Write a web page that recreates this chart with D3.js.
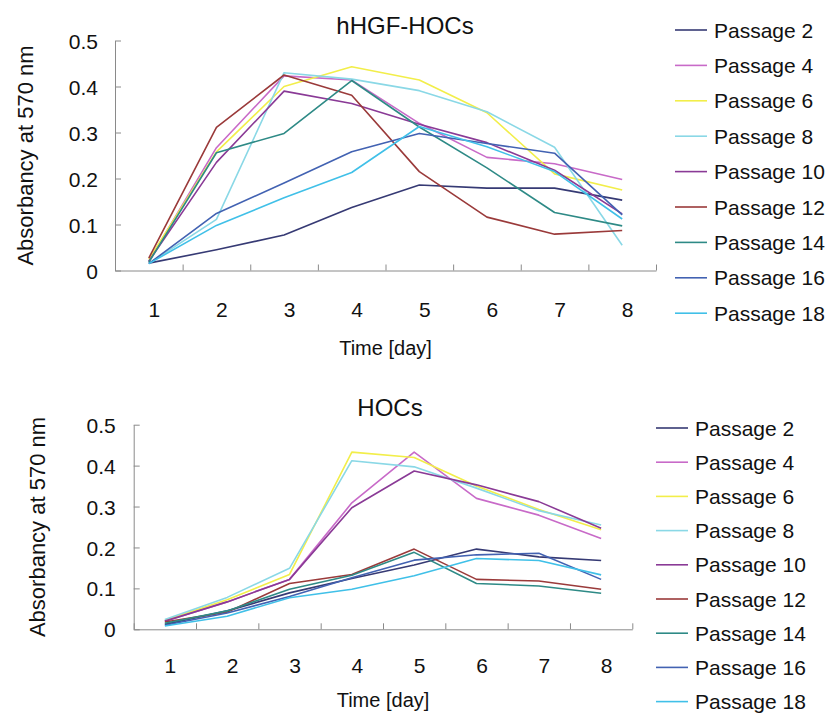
<!DOCTYPE html>
<html>
<head>
<meta charset="utf-8">
<script src="https://cdn.jsdelivr.net/npm/d3@7"></script>
<style>
  body { margin: 0; background: #fff; }
  text { font-family: "Liberation Sans", Arial, sans-serif; fill: #111; }
</style>
</head>
<body>
<svg id="chart" width="826" height="713"></svg>
<script>
// categories and labels
const days = [1, 2, 3, 4, 5, 6, 7, 8];
const passages = ["Passage 2", "Passage 4", "Passage 6", "Passage 8", "Passage 10",
                  "Passage 12", "Passage 14", "Passage 16", "Passage 18"];
const yTicks = [0, 0.1, 0.2, 0.3, 0.4, 0.5];
const colors = ["#363a74", "#c86ac8", "#f2ee4a", "#8ad8e6", "#8a3a96",
                "#9a3a3a", "#2e8a86", "#4262b2", "#40c0e8"];

// hHGF-HOCs, absorbancy per day
const hgfP2  = [0.016, 0.045, 0.077, 0.137, 0.186, 0.179, 0.179, 0.153];
const hgfP4  = [0.020, 0.267, 0.423, 0.414, 0.320, 0.246, 0.232, 0.198];
const hgfP6  = [0.024, 0.258, 0.400, 0.443, 0.414, 0.343, 0.210, 0.175];
const hgfP8  = [0.015, 0.111, 0.430, 0.416, 0.391, 0.345, 0.268, 0.055];
const hgfP10 = [0.020, 0.235, 0.390, 0.363, 0.318, 0.278, 0.218, 0.123];
const hgfP12 = [0.027, 0.311, 0.425, 0.381, 0.215, 0.116, 0.079, 0.087];
const hgfP14 = [0.018, 0.256, 0.298, 0.413, 0.312, 0.223, 0.126, 0.097];
const hgfP16 = [0.015, 0.124, 0.190, 0.258, 0.298, 0.276, 0.255, 0.121];
const hgfP18 = [0.015, 0.098, 0.158, 0.213, 0.313, 0.269, 0.215, 0.112];

// HOCs, absorbancy per day
const hocP2  = [0.012, 0.045, 0.089, 0.124, 0.157, 0.196, 0.177, 0.168];
const hocP4  = [0.020, 0.067, 0.122, 0.309, 0.433, 0.320, 0.279, 0.222];
const hocP6  = [0.022, 0.072, 0.134, 0.433, 0.420, 0.350, 0.293, 0.243];
const hocP8  = [0.024, 0.078, 0.149, 0.412, 0.397, 0.345, 0.290, 0.255];
const hocP10 = [0.020, 0.067, 0.122, 0.297, 0.387, 0.353, 0.312, 0.247];
const hocP12 = [0.018, 0.042, 0.112, 0.134, 0.196, 0.122, 0.118, 0.098];
const hocP14 = [0.015, 0.045, 0.098, 0.132, 0.188, 0.112, 0.106, 0.088];
const hocP16 = [0.010, 0.040, 0.080, 0.126, 0.169, 0.182, 0.186, 0.122];
const hocP18 = [0.008, 0.032, 0.077, 0.098, 0.131, 0.173, 0.168, 0.133];

const hgfSeries = [hgfP2, hgfP4, hgfP6, hgfP8, hgfP10, hgfP12, hgfP14, hgfP16, hgfP18];
const hocSeries = [hocP2, hocP4, hocP6, hocP8, hocP10, hocP12, hocP14, hocP16, hocP18];

const AXIS_COLOR = "#8a8a8a";
const svg = d3.select("#chart");

/**
 * Draw one panel: axes, lines, titles and legend
 */
function drawPanel(o) {
  const g = svg.append("g");

  let x = d3.scaleBand().domain(days).range([o.left, o.right]).padding(0);
  let xEdge = d3.scaleLinear().domain([0, days.length]).range([o.left, o.right]);
  let y = d3.scaleLinear().domain([0, 0.5]).range([o.bottom, o.top]);

  // y axis, ticks pointing inward
  let yAxis = g.append("g")
    .attr("transform", `translate(${o.left},0)`)
    .call(d3.axisLeft(y).tickValues(yTicks).tickSize(-6).tickSizeOuter(0)
      .tickPadding(o.yPad).tickFormat(d3.format("~g")));
  yAxis.selectAll("text").style("font-size", "21px").attr("dy", "0.36em");

  // x axis: boundary ticks
  g.append("g")
    .attr("transform", `translate(0,${o.bottom})`)
    .call(d3.axisBottom(xEdge).ticks(days.length).tickSize(-6).tickSizeOuter(0).tickFormat(""));

  // x axis: category labels
  let xAxis = g.append("g")
    .attr("transform", `translate(0,${o.bottom})`)
    .call(d3.axisBottom(x).tickSize(0));
  xAxis.select(".domain").remove();
  xAxis.selectAll("text")
    .style("font-size", "21px")
    .attr("y", o.xLabelY).attr("dy", 0).attr("dx", 5.5);

  g.selectAll(".domain, .tick line").attr("stroke", AXIS_COLOR);

  // series lines
  let line = d3.line()
    .x((d, i) => x(days[i]) + x.bandwidth() / 2)
    .y(d => y(d));

  g.selectAll("path.series")
    .data(o.series)
    .enter()
    .append("path")
      .attr("class", "series")
      .attr("d", line)
      .attr("fill", "none")
      .attr("stroke", (d, i) => colors[i])
      .attr("stroke-width", 1.6)
      .attr("stroke-linejoin", "round");

  // titles
  g.append("text")
    .attr("x", o.titleX).attr("y", o.titleY)
    .style("text-anchor", "middle").style("font-size", "24px")
    .text(o.title);
  g.append("text")
    .attr("x", (o.left + o.right) / 2).attr("y", o.timeY)
    .style("text-anchor", "middle").style("font-size", "20px")
    .text("Time [day]");
  g.append("text")
    .attr("transform", `translate(${o.absX},${(o.top + o.bottom) / 2}) rotate(-90)`)
    .attr("dy", "0.35em")
    .style("text-anchor", "middle").style("font-size", "22px")
    .text("Absorbancy at 570 nm");

  // legend
  let legend = g.selectAll("g.legend")
    .data(passages)
    .enter()
    .append("g")
      .attr("class", "legend")
      .attr("transform", (d, i) => `translate(${o.legX},${o.legY + i * o.legStep})`);
  legend.append("line")
    .attr("x1", 0).attr("x2", 32)
    .attr("stroke", (d, i) => colors[i])
    .attr("stroke-width", 1.6);
  legend.append("text")
    .attr("x", 39).attr("dy", "0.36em")
    .style("font-size", "21px")
    .text(d => d);
}

drawPanel({
  title: "hHGF-HOCs", series: hgfSeries,
  left: 115, right: 656, top: 40.5, bottom: 270.5,
  yPad: 17, xLabelY: 46, timeY: 355, titleX: 405, titleY: 34, absX: 25,
  legX: 675, legY: 30, legStep: 35.4
});

drawPanel({
  title: "HOCs", series: hocSeries,
  left: 133.7, right: 632.3, top: 424.7, bottom: 629.3,
  yPad: 18, xLabelY: 44, timeY: 707, titleX: 390, titleY: 416, absX: 37,
  legX: 656, legY: 428, legStep: 34.2
});
</script>
</body>
</html>
